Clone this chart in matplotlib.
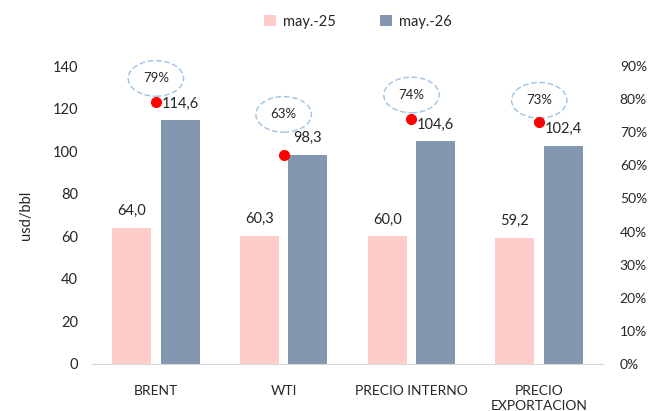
import numpy as np
import matplotlib.pyplot as plt

plt.rcParams['font.family'] = ['Lato', 'DejaVu Sans']

# ── datos ─────────────────────────────────────────────────────────────────
categorias = ['BRENT', 'WTI', 'PRECIO INTERNO', 'PRECIO\nEXPORTACION']
may25 = [64.0, 60.3, 60.0, 59.2]
may26 = [114.6, 98.3, 104.6, 102.4]
variacion = [0.79, 0.63, 0.74, 0.73]   # eje secundario
series = ['may.-25', 'may.-26']

# desplazamiento vertical (px) de las etiquetas de variación
desp_var = [24, 41, 24, 22]

c_rosa = '#FFCBCB'
c_azul = '#8497B0'
c_txt = '#262626'

# ── gráfico ───────────────────────────────────────────────────────────────
fig = plt.figure(figsize=(6.57, 4.11), dpi=100)
ax = fig.add_axes([0.140, 0.1144, 0.778, 0.7250])
ax2 = ax.twinx()

x = np.arange(len(categorias))
w = 0.305
off = 0.19
b1 = ax.bar(x - off, may25, w, color=c_rosa, label=series[0], zorder=2)
b2 = ax.bar(x + off, may26, w, color=c_azul, label=series[1], zorder=2)

for bars, vals in ((b1, may25), (b2, may26)):
    for r, v in zip(bars, vals):
        ax.annotate(f'{v:.1f}'.replace('.', ','),
                    (r.get_x() + r.get_width() / 2, v),
                    xytext=(0, 12), textcoords='offset points',
                    ha='center', va='center', fontsize=10.5, color=c_txt)

ax2.plot(x, variacion, linestyle='none', marker='o', color='#FF0000',
         markersize=7, zorder=5)
for xi, v, d in zip(x, variacion, desp_var):
    ax2.annotate(f'{v:.0%}', (xi, v), xytext=(0, d * 0.72),
                 textcoords='offset points', ha='center', va='center',
                 fontsize=9.5, color=c_txt,
                 bbox=dict(boxstyle='ellipse,pad=0.5', fc='white',
                           ec='#9DC3E6', ls=(0, (4, 2)), lw=1.0))

ax.set_xlim(-0.5, len(categorias) - 0.5)
ax.set_ylim(0, 140)
ax.set_yticks(range(0, 141, 20))
ax2.set_ylim(0, 0.9)
ax2.set_yticks(np.arange(0, 0.91, 0.1))
ax2.set_yticklabels([f'{int(round(t * 100))}%' for t in np.arange(0, 0.91, 0.1)])

ax.set_xticks(x)
ax.set_xticklabels(categorias, fontsize=10, color=c_txt, linespacing=1.3)
ax.tick_params(axis='x', length=0, pad=15, labelsize=10)
ax.tick_params(axis='y', length=0, pad=10, labelsize=10.5, labelcolor=c_txt)
ax2.tick_params(axis='y', length=0, pad=12, labelsize=10, labelcolor=c_txt)
for a in (ax, ax2):
    for s in a.spines.values():
        s.set_visible(False)
ax.spines['bottom'].set_visible(True)
ax.spines['bottom'].set_color('#D9D9D9')

ax.set_ylabel('usd/bbl', fontsize=10.5, color=c_txt, labelpad=14)

fig.legend(handles=[b1, b2], labels=series, loc='center',
           bbox_to_anchor=(0.545, 0.947), ncol=2, frameon=False,
           fontsize=10.5, handlelength=0.8, handleheight=0.8,
           columnspacing=3.0, handletextpad=0.5, labelcolor=c_txt)

plt.savefig('out.png', dpi=100)
